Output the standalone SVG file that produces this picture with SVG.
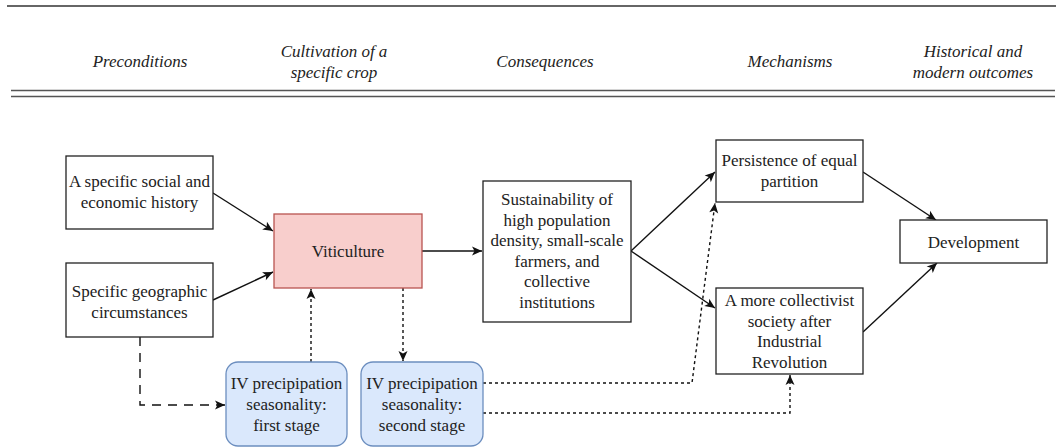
<svg xmlns="http://www.w3.org/2000/svg" width="1056" height="447" viewBox="0 0 1056 447">
<defs>
<marker id="ah" markerUnits="userSpaceOnUse" markerWidth="12" markerHeight="12" viewBox="0 0 12 12" refX="11" refY="6" orient="auto">
<path d="M1,1.5 L11,6 L1,10.5 L3.5,6 z" fill="#111"/>
</marker>
</defs>
<rect width="1056" height="447" fill="#fff"/>
<g id="header" font-family="Liberation Serif" font-style="italic" font-size="17" fill="#222" text-anchor="middle">
<line x1="7" y1="6" x2="1056" y2="6" stroke="#333" stroke-width="1.6"/>
<line x1="11" y1="90.5" x2="1055" y2="90.5" stroke="#555" stroke-width="1.6"/>
<line x1="11" y1="96.5" x2="1055" y2="96.5" stroke="#555" stroke-width="1.6"/>
<text x="140" y="67">Preconditions</text>
<text x="334" y="57">Cultivation of a</text>
<text x="334" y="78">specific crop</text>
<text x="545" y="67">Consequences</text>
<text x="790" y="67">Mechanisms</text>
<text x="973" y="57">Historical and</text>
<text x="973" y="78">modern outcomes</text>
</g>
<g id="connectors" fill="none" stroke="#111" stroke-width="1.4" marker-end="url(#ah)">
<line x1="213" y1="193" x2="273" y2="231"/>
<line x1="213" y1="300" x2="273" y2="272"/>
<line x1="422" y1="251" x2="482" y2="251"/>
<line x1="631" y1="251" x2="715" y2="172"/>
<line x1="631" y1="251" x2="715" y2="308"/>
<line x1="863" y1="172" x2="936" y2="220"/>
<line x1="863" y1="332" x2="937" y2="263"/>
<polyline points="140,337 140,405 225,405" stroke-dasharray="9 7"/>
<line x1="311" y1="362" x2="311" y2="289" stroke-dasharray="3 3"/>
<line x1="403" y1="288" x2="403" y2="361" stroke-dasharray="3 3"/>
<polyline points="483,383 692,383 715,203" stroke-dasharray="3 3"/>
<polyline points="483,413 790,413 790,375" stroke-dasharray="3 3"/>
</g>
<g font-family="Liberation Serif" font-size="17" text-anchor="middle" stroke-width="1.3">
<g id="node-history">
<rect x="66" y="156" width="147" height="73" fill="#fff" stroke="#222"/>
<text x="139.5" y="187" fill="#222">A specific social and</text>
<text x="139.5" y="208" fill="#222">economic history</text>
</g>
<g id="node-geography">
<rect x="66" y="263" width="147" height="74" fill="#fff" stroke="#222"/>
<text x="139.5" y="297" fill="#222">Specific geographic</text>
<text x="139.5" y="318" fill="#222">circumstances</text>
</g>
<g id="node-viticulture">
<rect x="274" y="214" width="148" height="74" fill="#f8cecc" stroke="#b85450"/>
<text x="348" y="257" fill="#222">Viticulture</text>
</g>
<g id="node-consequences">
<rect x="483" y="181" width="148" height="141" fill="#fff" stroke="#222"/>
<text x="557" y="205" fill="#222">Sustainability of</text>
<text x="557" y="225.5" fill="#222">high population</text>
<text x="557" y="246" fill="#222">density, small-scale</text>
<text x="557" y="266.5" fill="#222">farmers, and</text>
<text x="557" y="287" fill="#222">collective</text>
<text x="557" y="307.5" fill="#222">institutions</text>
</g>
<g id="node-persistence">
<rect x="716" y="140" width="147" height="62" fill="#fff" stroke="#222"/>
<text x="789.5" y="166" fill="#222">Persistence of equal</text>
<text x="789.5" y="187" fill="#222">partition</text>
</g>
<g id="node-collectivist">
<rect x="716" y="288" width="147" height="86" fill="#fff" stroke="#222"/>
<text x="789.5" y="306" fill="#222">A more collectivist</text>
<text x="789.5" y="326.5" fill="#222">society after</text>
<text x="789.5" y="347" fill="#222">Industrial</text>
<text x="789.5" y="367.5" fill="#222">Revolution</text>
</g>
<g id="node-development">
<rect x="900" y="220" width="147" height="43" fill="#fff" stroke="#222"/>
<text x="973.5" y="247.5" fill="#222">Development</text>
</g>
<g id="node-iv1">
<rect x="226" y="362" width="121" height="84" rx="12" fill="#dae8fc" stroke="#6c8ebf"/>
<text x="286.5" y="389" fill="#222">IV precipipation</text>
<text x="286.5" y="410" fill="#222">seasonality:</text>
<text x="286.5" y="431" fill="#222">first stage</text>
</g>
<g id="node-iv2">
<rect x="361" y="362" width="122" height="84" rx="12" fill="#dae8fc" stroke="#6c8ebf"/>
<text x="422" y="389" fill="#222">IV precipipation</text>
<text x="422" y="410" fill="#222">seasonality:</text>
<text x="422" y="431" fill="#222">second stage</text>
</g>
</g>
</svg>
